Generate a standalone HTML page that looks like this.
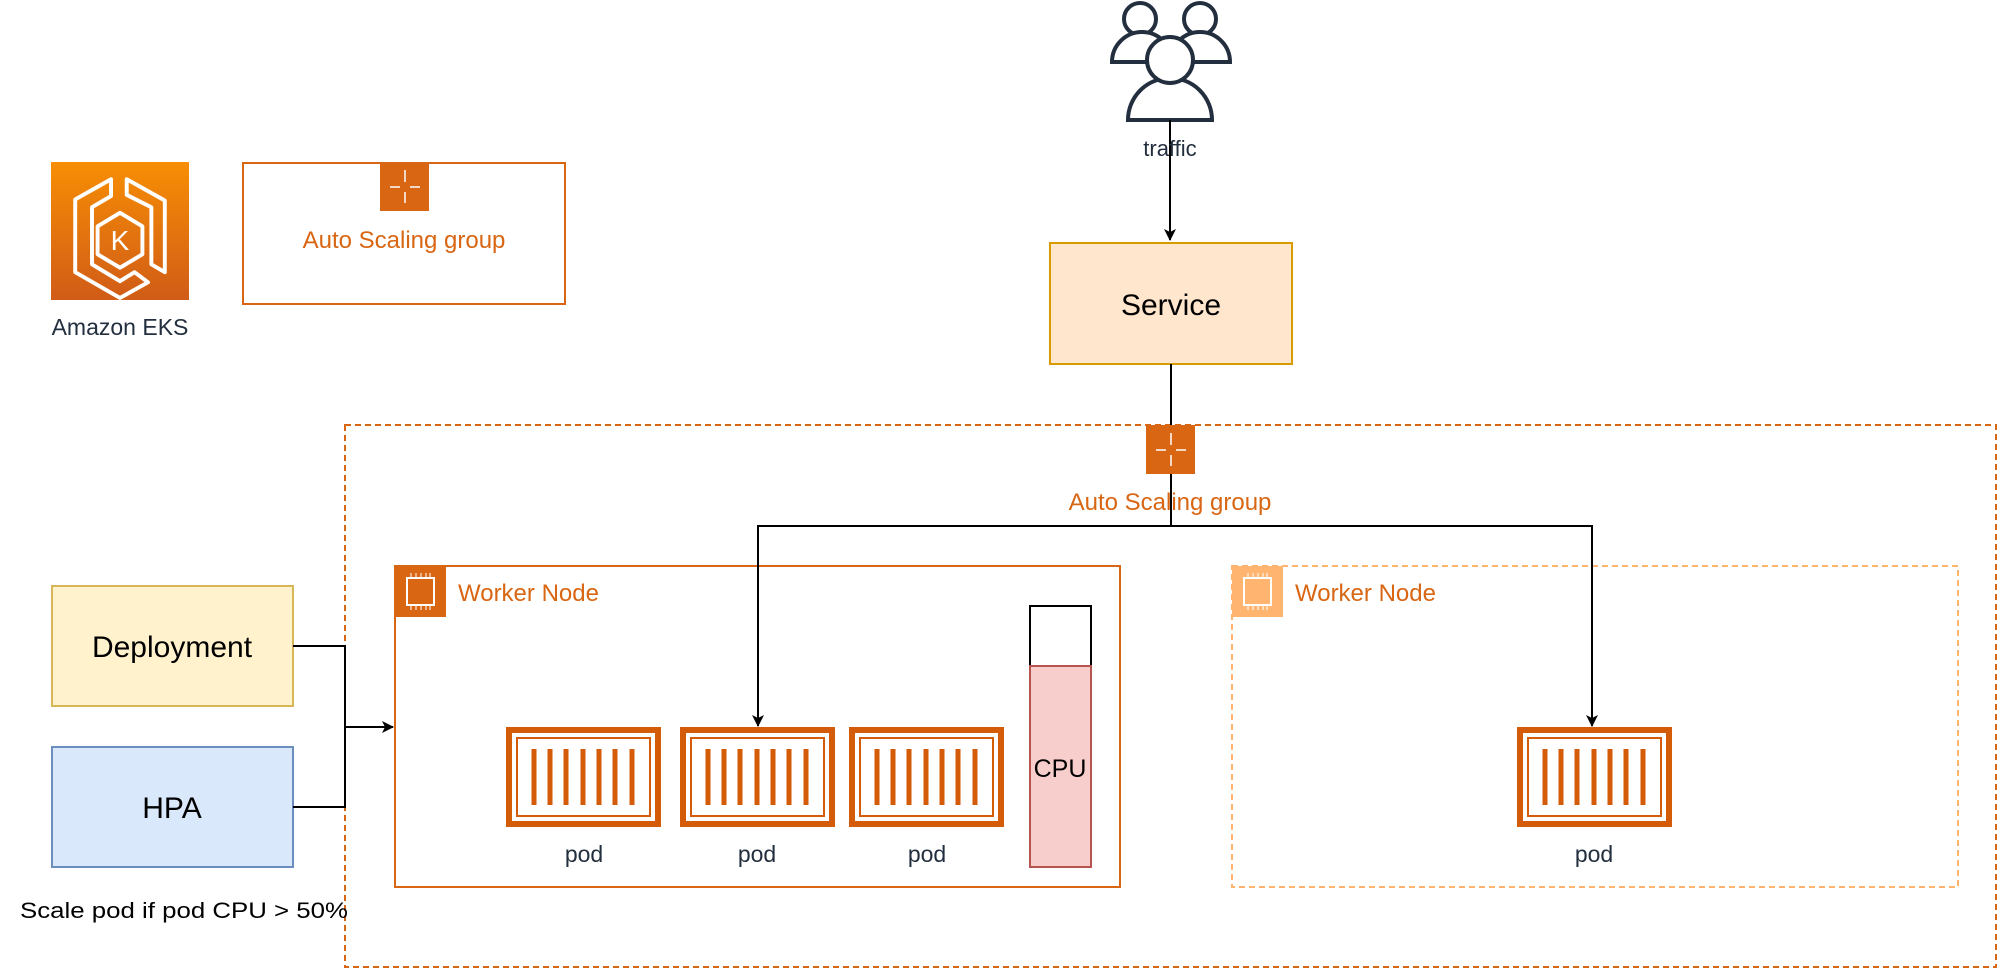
<!DOCTYPE html>
<html><head><meta charset="utf-8"><style>
html,body{margin:0;padding:0;background:#fff;}
svg{display:block;font-family:"Liberation Sans",Arial,sans-serif;}
</style></head><body>
<svg width="2000" height="970" viewBox="0 0 2000 970" xmlns="http://www.w3.org/2000/svg">
<defs>
<linearGradient id="eks" x1="0" y1="0" x2="0" y2="1"><stop offset="0" stop-color="#f78e04"/><stop offset="1" stop-color="#d05c17"/></linearGradient>
<marker id="ar" markerWidth="12" markerHeight="12" refX="11" refY="6" orient="auto" markerUnits="userSpaceOnUse"><path d="M0,0 L12,6 L0,12 L3,6 z" fill="#000"/></marker>
<g id="pod">
<rect x="3" y="3" width="149" height="94" fill="#fff" stroke="#d45b07" stroke-width="6"/>
<rect x="11" y="11" width="133" height="78" fill="none" stroke="#d45b07" stroke-width="2"/>
<g stroke="#d45b07" stroke-width="5">
<line x1="28" y1="22" x2="28" y2="78"/><line x1="44" y1="22" x2="44" y2="78"/><line x1="60" y1="22" x2="60" y2="78"/><line x1="77" y1="22" x2="77" y2="78"/><line x1="93" y1="22" x2="93" y2="78"/><line x1="109" y1="22" x2="109" y2="78"/><line x1="126" y1="22" x2="126" y2="78"/>
</g>
</g>
<g id="asgicon">
<g stroke="#fff" stroke-width="1.5" fill="none">
<line x1="25" y1="8" x2="25" y2="20"/><line x1="25" y1="30" x2="25" y2="41"/><line x1="10" y1="25" x2="20" y2="25"/><line x1="30" y1="25" x2="40" y2="25"/>
</g>
</g>
<g id="chip">
<rect x="12" y="12" width="27" height="27" fill="none" stroke="#fff" stroke-width="2"/>
<g stroke="#fff" stroke-width="1"><line x1="16" y1="7" x2="16" y2="12"/><line x1="21" y1="7" x2="21" y2="12"/><line x1="26" y1="7" x2="26" y2="12"/><line x1="31" y1="7" x2="31" y2="12"/><line x1="35" y1="7" x2="35" y2="12"/>
<line x1="16" y1="39" x2="16" y2="44"/><line x1="21" y1="39" x2="21" y2="44"/><line x1="26" y1="39" x2="26" y2="44"/><line x1="31" y1="39" x2="31" y2="44"/><line x1="35" y1="39" x2="35" y2="44"/></g>
</g>
</defs>

<!-- EKS icon -->
<rect x="51" y="162" width="138" height="138" fill="url(#eks)"/>
<g stroke="#fff" stroke-width="3.5" fill="none" stroke-linejoin="round" transform="translate(120,233) scale(1.12) translate(-120,-233)">
<path d="M112,185 L80,203 L80,268 L120,291 L145,277 L133,268 L120,276 L95,261 L95,210 L112,200 z"/>
<path d="M126,185 L160,204 L160,268 L148,261 L148,210 L126,199 z"/>
<path d="M120,215 L100,227 L100,252 L120,264 L140,252 L140,227 z"/>
</g>
<text x="120" y="250" font-size="28" fill="#fff" text-anchor="middle">K</text>
<text x="120" y="335" font-size="23" fill="#232f3e" text-anchor="middle">Amazon EKS</text>

<!-- small ASG -->
<rect x="243" y="163" width="322" height="141" fill="#fff" stroke="#d86613" stroke-width="2"/>
<rect x="380" y="163" width="49" height="48" fill="#d86613"/>
<use href="#asgicon" x="380" y="162"/>
<text x="404" y="248" font-size="24" fill="#d86613" text-anchor="middle">Auto Scaling group</text>

<!-- people -->
<g stroke="#232f3e" stroke-width="4" fill="#fff">
<circle cx="1140" cy="19" r="16"/>
<path d="M1112,62 a30,30 0 0 1 60,0 z"/>
<circle cx="1200" cy="19" r="16"/>
<path d="M1170,62 a30,30 0 0 1 60,0 z"/>
<path d="M1128,120 a42,42 0 0 1 84,0 z"/>
<circle cx="1170" cy="60" r="23"/>
</g>
<line x1="1170" y1="120" x2="1170" y2="240" stroke="#000" stroke-width="2" marker-end="url(#ar)"/>
<text x="1170" y="156" font-size="22" fill="#232f3e" text-anchor="middle">traffic</text>

<!-- Service -->
<rect x="1050" y="243" width="242" height="121" fill="#ffe6cc" stroke="#d79b00" stroke-width="2"/>
<text x="1171" y="315" font-size="30" fill="#000" text-anchor="middle">Service</text>

<!-- big ASG -->
<rect x="345" y="425" width="1651" height="542" fill="none" stroke="#d86613" stroke-width="2" stroke-dasharray="6,4"/>
<line x1="1171" y1="364" x2="1171" y2="526" stroke="#000" stroke-width="2"/>
<rect x="1146" y="425" width="49" height="49" fill="#d86613"/>
<use href="#asgicon" x="1146" y="425"/>
<text x="1170" y="510" font-size="24" fill="#d86613" text-anchor="middle">Auto Scaling group</text>

<!-- worker node 1 -->
<rect x="395" y="566" width="725" height="321" fill="none" stroke="#d86613" stroke-width="2"/>
<rect x="395" y="566" width="51" height="51" fill="#d86613"/>
<use href="#chip" x="395" y="566"/>
<text x="458" y="601" font-size="24" fill="#d86613">Worker Node</text>

<!-- worker node 2 -->
<rect x="1232" y="566" width="726" height="321" fill="none" stroke="#ffb570" stroke-width="2" stroke-dasharray="6,4"/>
<rect x="1232" y="566" width="51" height="51" fill="#ffb570"/>
<use href="#chip" x="1232" y="566"/>
<text x="1295" y="601" font-size="24" fill="#d86613">Worker Node</text>

<!-- connector -->
<polyline points="758,726 758,526 1592,526 1592,726" fill="none" stroke="#000" stroke-width="2"/>
<line x1="758" y1="700" x2="758" y2="726" stroke="#000" stroke-width="2" marker-end="url(#ar)"/>
<line x1="1592" y1="700" x2="1592" y2="726" stroke="#000" stroke-width="2" marker-end="url(#ar)"/>

<!-- pods -->
<use href="#pod" x="506" y="727"/>
<use href="#pod" x="680" y="727"/>
<use href="#pod" x="849" y="727"/>
<use href="#pod" x="1517" y="727"/>
<g font-size="23" fill="#232f3e" text-anchor="middle">
<text x="584" y="862">pod</text><text x="757" y="862">pod</text><text x="927" y="862">pod</text><text x="1594" y="862">pod</text>
</g>

<!-- CPU -->
<rect x="1030" y="606" width="61" height="61" fill="#fff" stroke="#000" stroke-width="2"/>
<rect x="1030" y="666" width="61" height="201" fill="#f8cecc" stroke="#b85450" stroke-width="2"/>
<text x="1060" y="777" font-size="25" fill="#000" text-anchor="middle">CPU</text>

<!-- Deployment / HPA -->
<rect x="52" y="586" width="241" height="120" fill="#fff2cc" stroke="#d6b656" stroke-width="2"/>
<text x="172" y="657" font-size="30" fill="#000" text-anchor="middle">Deployment</text>
<rect x="52" y="747" width="241" height="120" fill="#dae8fc" stroke="#6c8ebf" stroke-width="2"/>
<text x="172" y="818" font-size="30" fill="#000" text-anchor="middle">HPA</text>
<polyline points="293,646 345,646 345,807 293,807" fill="none" stroke="#000" stroke-width="2"/>
<line x1="345" y1="727" x2="393" y2="727" stroke="#000" stroke-width="2" marker-end="url(#ar)"/>
<text x="20" y="918" font-size="22" fill="#000" textLength="328" lengthAdjust="spacingAndGlyphs">Scale pod if pod CPU &gt; 50%</text>
</svg>
</body></html>
